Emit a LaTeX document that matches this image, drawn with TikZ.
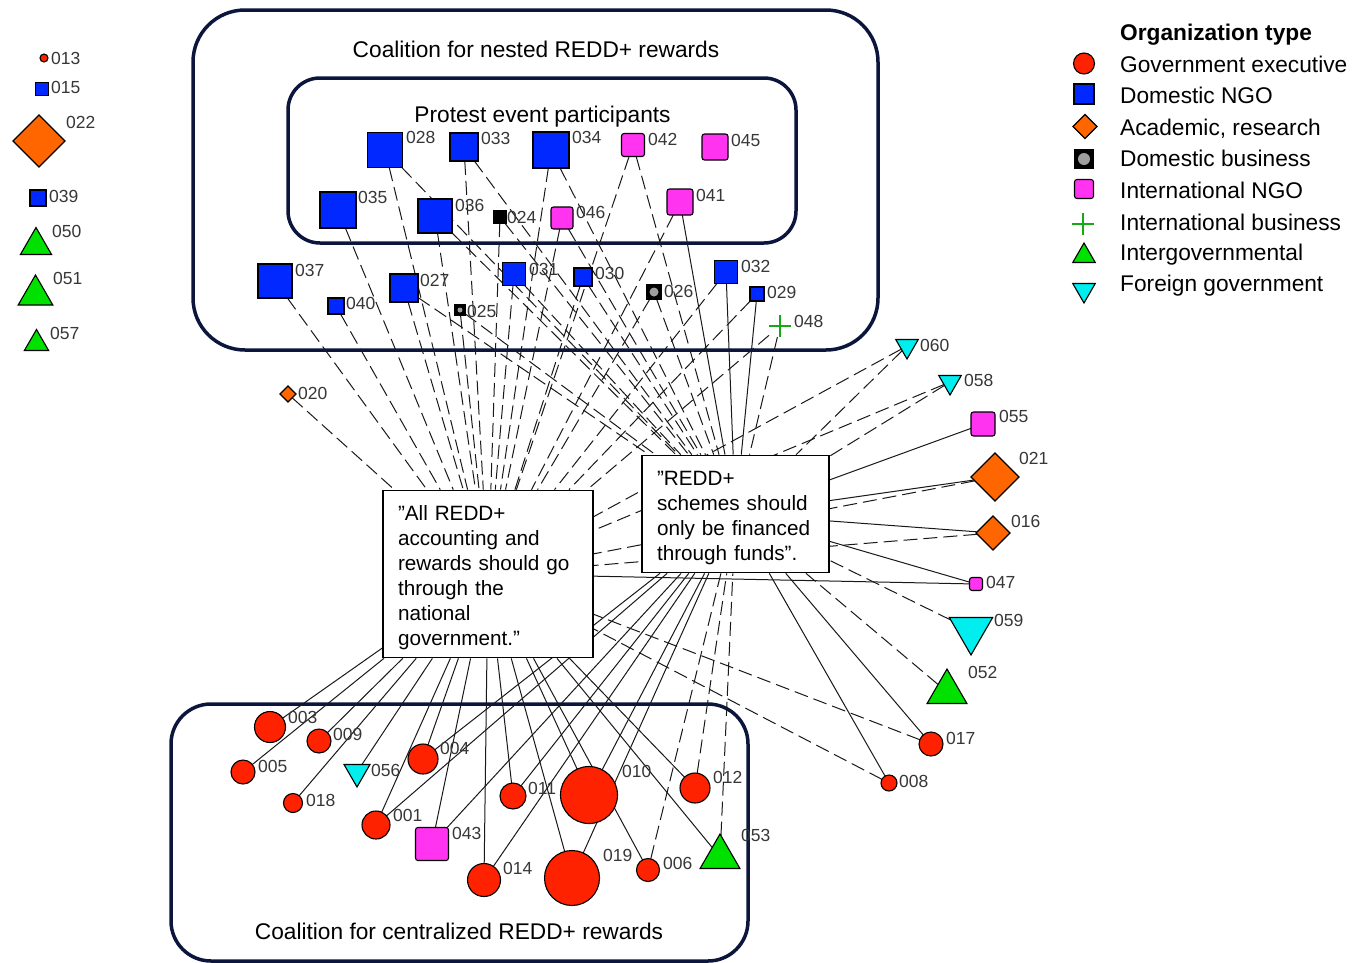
\documentclass[tikz,border=0pt]{standalone}
\usepackage{fontspec}
\setmainfont{Liberation Sans}
\usetikzlibrary{shapes.geometric}
\pgfdeclarelayer{bg}
\pgfsetlayers{bg,main}
\definecolor{gov}{RGB}{255,34,0}
\definecolor{dngo}{RGB}{0,40,255}
\definecolor{acad}{RGB}{255,102,0}
\definecolor{ingo}{RGB}{255,51,240}
\definecolor{igov}{RGB}{0,225,0}
\definecolor{fgov}{RGB}{0,238,238}
\definecolor{framec}{RGB}{12,22,60}
\definecolor{lblc}{RGB}{55,55,55}
\definecolor{ibiz}{RGB}{20,170,20}
\newcommand\mylab[3]{\node[lab] (l#3) at (#1,#2) {#3};}
\tikzset{
  base/.style={draw=black, line width=1.1pt, inner sep=0pt, outer sep=0pt},
  gcirc/.style={base, circle, fill=gov, minimum size=#1},
  dsq/.style={base, rectangle, fill=dngo, minimum size=#1},
  isq/.style={base, rectangle, rounded corners=2.5pt, fill=ingo, minimum size=#1},
  bsq/.style={base, rectangle, fill=black, minimum size=#1},
  adia/.style={base, diamond, fill=acad, minimum size=#1},
  tup/.style={base, regular polygon, regular polygon sides=3, fill=igov, minimum size=#1},
  tdn/.style={base, regular polygon, regular polygon sides=3, shape border rotate=180, fill=fgov, minimum size=#1},
  plusn/.style={rectangle, inner sep=0pt, outer sep=0pt, minimum size=#1},
  lab/.style={anchor=west, inner sep=0pt, text=lblc, font=\fontsize{17.5}{20}\selectfont},
  framebox/.style={draw=framec, line width=3.5pt},
  ttl/.style={anchor=base, inner sep=0pt, font=\fontsize{22.7}{26}\selectfont},
  stmt/.style={draw=black, line width=1.4pt, fill=white, inner xsep=15pt, inner ysep=8pt, align=left, font=\fontsize{20.7}{25}\selectfont},
  ag/.style={draw=black!90, line width=1pt},
  dis/.style={ag, dash pattern=on 14pt off 6pt},
  legt/.style={anchor=base west, inner sep=0pt, font=\fontsize{22.7}{26}\selectfont},
}
\begin{document}
\begin{tikzpicture}[x=1pt,y=-1pt]
\clip (0,0) rectangle (1366,962);

% ---------- statements ----------
\node[stmt, text width=180, minimum width=210, minimum height=166] (SA) at (488,574)
  {\rule{0pt}{22pt}”All REDD+\\accounting and\\rewards should go\\through the\\national\\government.”};
\node[stmt, text width=157, minimum width=187, minimum height=116] (SB) at (735.5,514)
  {\rule{0pt}{22pt}”REDD+\\schemes should\\only be financed\\through funds”.};

% ---------- left column ----------
\node[gcirc=8] (n013) at (44,58) {};
\node[dsq=13] (n015) at (42,89) {};
\node[adia=52] (n022) at (39,141) {};
\node[dsq=16] (n039) at (38,198) {};
\node[tup=36] (n050) at (36,245.5) {};
\node[tup=40] (n051) at (35.5,295) {};
\node[tup=28] (n057) at (36.5,343.5) {};
\mylab{51}{58}{013}
\mylab{51}{87}{015}
\mylab{66}{122}{022}
\mylab{49}{196}{039}
\mylab{52}{231}{050}
\mylab{53}{278}{051}
\mylab{50}{333}{057}

% ---------- top nodes ----------
\node[dsq=35] (n028) at (385,150) {};
\node[dsq=28] (n033) at (464,147) {};
\node[dsq=36] (n034) at (551,150) {};
\node[isq=23] (n042) at (633,145) {};
\node[isq=26] (n045) at (715,147) {};
\node[dsq=36] (n035) at (338,210) {};
\node[dsq=34] (n036) at (435,216) {};
\node[bsq=12] (n024) at (500,217) {};
\node[isq=22] (n046) at (562,218) {};
\node[isq=26] (n041) at (680,202) {};
\node[dsq=34] (n037) at (275,281) {};
\node[dsq=16] (n040) at (336,306) {};
\node[dsq=28] (n027) at (404,288) {};
\node[bsq=10] (n025) at (460,310) {};
\node[dsq=23] (n031) at (514,274) {};
\node[dsq=18] (n030) at (583,277) {};
\node[bsq=14] (n026) at (654,292) {};
\node[dsq=23] (n032) at (726,272) {};
\node[dsq=14] (n029) at (757,294) {};
\node[plusn=22] (n048) at (780,326) {};
\fill[gray!75] (n026.center) circle (4.5);
\fill[gray!75] (n025.center) circle (2.5);
\draw[ibiz, line width=1.2pt] (n048.north) -- (n048.south) (n048.west) -- (n048.east);
\mylab{406}{137}{028}
\mylab{481}{138}{033}
\mylab{572}{137}{034}
\mylab{648}{139}{042}
\mylab{731}{140}{045}
\mylab{358}{197}{035}
\mylab{455}{205}{036}
\mylab{507}{217}{024}
\mylab{576}{212}{046}
\mylab{696}{195}{041}
\mylab{295}{270}{037}
\mylab{346}{303}{040}
\mylab{420}{280}{027}
\mylab{467}{311}{025}
\mylab{529}{269}{031}
\mylab{595}{273}{030}
\mylab{664}{291}{026}
\mylab{741}{266}{032}
\mylab{767}{292}{029}
\mylab{794}{321}{048}

% ---------- right nodes ----------
\node[tdn=26] (n060) at (907,346) {};
\node[tdn=26] (n058) at (950,382) {};
\node[isq=24] (n055) at (983,424) {};
\node[adia=48] (n021) at (995,477) {};
\node[adia=34] (n016) at (993,533) {};
\node[isq=13] (n047) at (976,584) {};
\node[tdn=50] (n059) at (971,630) {};
\node[tup=46] (n052) at (947,692) {};
\node[gcirc=24] (n017) at (931,744) {};
\node[gcirc=16] (n008) at (889,783) {};
\node[adia=16] (n020) at (288,394) {};
\mylab{920}{345}{060}
\mylab{964}{380}{058}
\mylab{999}{416}{055}
\mylab{1019}{458}{021}
\mylab{1011}{521}{016}
\mylab{986}{582}{047}
\mylab{994}{620}{059}
\mylab{968}{672}{052}
\mylab{946}{738}{017}
\mylab{899}{781}{008}
\mylab{298}{393}{020}

% ---------- bottom nodes ----------
\node[gcirc=31] (n003) at (270,727) {};
\node[gcirc=24] (n009) at (319,741) {};
\node[gcirc=24] (n005) at (243,772) {};
\node[gcirc=19] (n018) at (293,803) {};
\node[tdn=30] (n056) at (357,772) {};
\node[gcirc=30] (n004) at (423,759) {};
\node[gcirc=28] (n001) at (376,825) {};
\node[isq=33] (n043) at (432,844) {};
\node[gcirc=26] (n011) at (513,796) {};
\node[gcirc=57] (n010) at (589,795) {};
\node[gcirc=33] (n014) at (484,880) {};
\node[gcirc=55] (n019) at (572,878) {};
\node[gcirc=23] (n006) at (648,870) {};
\node[gcirc=30] (n012) at (695,788) {};
\node[tup=46] (n053) at (720,857) {};
\mylab{288}{717}{003}
\mylab{333}{734}{009}
\mylab{258}{766}{005}
\mylab{306}{800}{018}
\mylab{371}{770}{056}
\mylab{440}{748}{004}
\mylab{393}{815}{001}
\mylab{452}{833}{043}
\mylab{528}{788}{011}
\mylab{622}{771}{010}
\mylab{503}{868}{014}
\mylab{603}{855}{019}
\mylab{663}{863}{006}
\mylab{713}{777}{012}
\mylab{741}{835}{053}

% ---------- frame titles ----------
\node[ttl] (t1) at (536,57) {Coalition for nested REDD+ rewards};
\node[ttl] (t2) at (542.5,122) {Protest event participants};
\node[ttl] (t3) at (459,939) {Coalition for centralized REDD+ rewards};

% ---------- legend ----------
\node[legt, font=\bfseries\fontsize{22.7}{26}\selectfont] (lgT) at (1120,40.7) {Organization type};
\node[gcirc=21] (lg1) at (1084,63.5) {};
\node[dsq=20] (lg2) at (1084,94) {};
\node[adia=24] (lg3) at (1085,126.5) {};
\node[bsq=19] (lg4) at (1084,159) {};
\fill[gray!75] (lg4.center) circle (6);
\node[isq=19] (lg5) at (1084,189) {};
\node[plusn=22] (lg6) at (1083,224) {};
\draw[ibiz, line width=1.2pt] (lg6.north) -- (lg6.south) (lg6.west) -- (lg6.east);
\node[tup=26] (lg7) at (1084,256) {};
\node[tdn=26] (lg8) at (1084,290) {};
\node[legt] (lgt1) at (1120,72.7) {Government executive};
\node[legt] (lgt2) at (1120,103.3) {Domestic NGO};
\node[legt] (lgt3) at (1120,135) {Academic, research};
\node[legt] (lgt4) at (1120,166.7) {Domestic business};
\node[legt] (lgt5) at (1120,198) {International NGO};
\node[legt] (lgt6) at (1120,230) {International business};
\node[legt] (lgt7) at (1120,260.7) {Intergovernmental};
\node[legt] (lgt8) at (1120,291.7) {Foreign government};

% ---------- frames and ties (background) ----------
\begin{pgfonlayer}{bg}
  \fill[white] (0,0) rectangle (1366,962);
  \draw[framebox, rounded corners=52pt] (193,10) rectangle (878,350);
  \draw[framebox, rounded corners=32pt] (288,78) rectangle (796,243);
  \draw[framebox, rounded corners=40pt] (171,704) rectangle (748,961);
  % dashed ties to statement A
  \foreach \n in {028,033,034,042,035,036,024,046,041,037,040,027,025,031,030,026,032,029,048,060,058,021,016,017,008,020}
    \draw[dis] (n\n) -- (SA);
  % dashed ties to statement B
  \foreach \n in {028,033,034,042,036,024,046,027,025,031,030,026,048,060,058,059,052,006,012,053}
    \draw[dis] (n\n) -- (SB);
  % solid ties to statement A
  \foreach \n in {047,003,009,005,018,056,004,001,043,011,010,014,019,006,012,053}
    \draw[ag] (n\n) -- (SA);
  % solid ties to statement B
  \foreach \n in {032,041,029,055,021,016,047,017,008,004,001,043,011,010,014,019}
    \draw[ag] (n\n) -- (SB);
\end{pgfonlayer}
\end{tikzpicture}
\end{document}
